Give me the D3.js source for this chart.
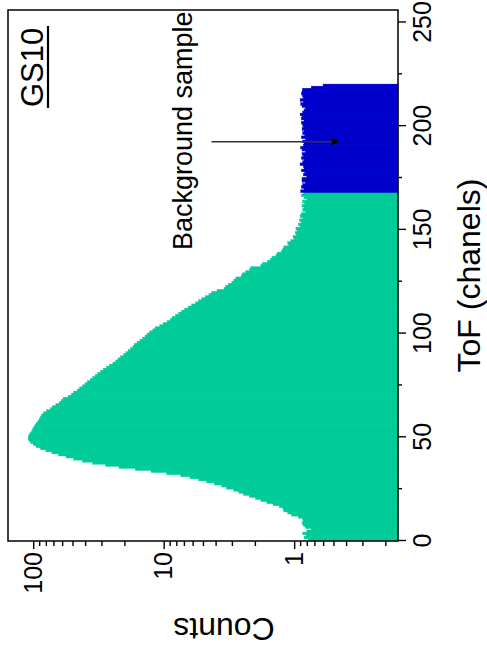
<!DOCTYPE html>
<html>
<head>
<meta charset="utf-8">
<script src="https://cdn.jsdelivr.net/npm/d3@7"></script>
<style>
  body { margin: 0; background: #fff; }
  text { font-family: "Liberation Sans", Arial, Helvetica, sans-serif; }
</style>
</head>
<body>
<div id="chart"></div>
<script>
var svgWidth = 487;
var svgHeight = 660;

// counts per ToF channel, channels 0..167 (sample)
var sampleCounts = [
  0.78, 0.84, 0.81, 0.86, 0.8, 0.74, 0.82, 0.85, 0.87, 0.85,
  0.86, 0.93, 1.05, 1.12, 1.2, 1.22, 1.3, 1.45, 1.62, 1.8,
  1.98, 2.2, 2.45, 2.65, 2.9, 3.3, 3.6, 4.1, 4.7, 5.4,
  6.3, 7.4, 9.5, 12.5, 16.5, 22, 28, 35, 42, 49,
  56, 64, 72, 80, 88, 95, 100, 105, 108, 109,
  108, 106, 103, 101, 99, 97, 95, 92, 90, 88,
  86, 83, 79, 74, 71, 67, 63, 61, 59, 54,
  51, 49, 46, 44, 42, 40, 38.5, 36.5, 35, 33.5,
  32, 30.5, 29, 27.5, 26, 24.5, 23.3, 22.4, 21.4, 20.3,
  19.5, 18.7, 17.9, 17.2, 16.8, 16, 15.2, 14.5, 13.9, 13.4,
  12.8, 12.1, 11.6, 10.7, 10.1, 9.4, 8.9, 8.6, 8.1, 7.7,
  7.3, 6.9, 6.5, 6.1, 5.7, 5.4, 5.1, 4.8, 4.5, 4.3,
  3.9, 3.45, 3.35, 3.2, 3.0, 2.9, 2.8, 2.55, 2.5, 2.35,
  2.2, 2.15, 1.8, 1.75, 1.6, 1.52, 1.48, 1.38, 1.35, 1.25,
  1.22, 1.2, 1.1, 1.12, 1.06, 1.0, 1.02, 0.96, 0.98, 0.95,
  0.97, 0.9, 0.93, 0.88, 0.91, 0.86, 0.9, 0.88, 0.82, 0.86,
  0.84, 0.87, 0.83, 0.86, 0.8, 0.84, 0.88, 0.85
];

// counts per channel, channels 168..219 (background)
var backgroundStart = 168;
var backgroundCounts = [
  0.89, 0.84, 0.88, 0.86, 0.82, 0.87, 0.87, 0.8, 0.85, 0.83,
  0.88, 0.84, 0.85, 0.9, 0.86, 0.84, 0.88, 0.85, 0.87, 0.82,
  0.87, 0.89, 0.85, 0.84, 0.86, 0.82, 0.88, 0.83, 0.86, 0.84,
  0.87, 0.85, 0.86, 0.88, 0.84, 0.88, 0.87, 0.9, 0.86, 0.84,
  0.82, 0.87, 0.89, 0.85, 0.9, 0.85, 0.86, 0.88, 0.87, 0.86,
  0.74, 0.6
];

var tofTicks = [0, 50, 100, 150, 200, 250];
var tofMinorTicks = [25, 75, 125, 175, 225];
var countTicks = [1, 10, 100];
var countMinorTicks = [0.2, 0.3, 0.4, 0.5, 0.6, 0.7, 0.8, 0.9,
  2, 3, 4, 5, 6, 7, 8, 9, 20, 30, 40, 50, 60, 70, 80, 90];

// arrow: channel, from count, to count
var arrowChannel = 192.5;
var arrowFrom = 4.3;
var arrowTo = 0.45;

// chart is drawn unrotated, then the group is turned -90deg
var W = 531;   // ToF axis length
var H = 390;   // Counts axis length

var svg = d3.select("#chart")
  .append("svg")
  .attr("width", svgWidth)
  .attr("height", svgHeight);

svg.append("defs").append("marker")
  .attr("id", "head")
  .attr("viewBox", "0 0 10 10")
  .attr("refX", 10).attr("refY", 5)
  .attr("markerWidth", 9).attr("markerHeight", 5)
  .attr("markerUnits", "strokeWidth")
  .attr("orient", "auto")
  .append("path")
  .attr("d", "M0,0 L10,5 L0,10 Z")
  .attr("fill", "#000");

var g = svg.append("g")
  .attr("transform", "translate(8,541) rotate(-90)");

var x = d3.scaleLinear().domain([0, 256]).range([0, W]);
var y = d3.scaleLog().domain([0.16, 156]).range([H, 0]);

var bars = sampleCounts.map(function(c, i) { return {ch: i, c: c, bg: false}; })
  .concat(backgroundCounts.map(function(c, i) { return {ch: backgroundStart + i, c: c, bg: true}; }));

g.selectAll("rect.bar")
  .data(bars)
  .enter()
  .append("rect")
  .attr("class", "bar")
  .attr("x", d => x(d.ch))
  .attr("width", d => x(d.ch + 1) - x(d.ch) + 0.6)
  .attr("y", d => y(d.c))
  .attr("height", d => H - y(d.c))
  .attr("fill", d => d.bg ? "#0000cc" : "#00cc99")
  .attr("stroke", d => d.bg ? "#0000cc" : "#00cc99")
  .attr("stroke-width", 0.4);

// frame
g.append("rect")
  .attr("width", W).attr("height", H)
  .attr("fill", "none")
  .attr("stroke", "#000")
  .attr("stroke-width", 1.5);

// ToF axis (right side after rotation)
g.append("g")
  .attr("transform", `translate(0,${H})`)
  .call(d3.axisBottom(x).tickValues(tofTicks).tickSize(8).tickPadding(7));
g.append("g")
  .attr("transform", `translate(0,${H})`)
  .call(d3.axisBottom(x).tickValues(tofMinorTicks).tickSize(4).tickFormat(""));

// Counts axis (bottom after rotation)
g.append("g")
  .call(d3.axisLeft(y).tickValues(countTicks).tickSize(8).tickPadding(3).tickFormat(d3.format("d")));
g.append("g")
  .call(d3.axisLeft(y).tickValues(countMinorTicks).tickSize(5).tickFormat(""));

g.selectAll(".domain").remove();
g.selectAll(".tick line").attr("stroke", "#000").attr("stroke-width", 1.4);
g.selectAll(".tick text")
  .attr("fill", "#000")
  .style("font-size", "25px")
  .style("font-family", "'Liberation Sans', Arial, Helvetica, sans-serif");

// axis titles
g.append("text")
  .attr("x", W / 2)
  .attr("y", H + 82)
  .attr("text-anchor", "middle")
  .style("font-size", "32px")
  .text("ToF (chanels)");

g.append("text")
  .attr("transform", `translate(-77,${216}) rotate(-90)`)
  .attr("text-anchor", "middle")
  .style("font-size", "32px")
  .text("Counts");

// sample label
g.append("text")
  .attr("x", 434)
  .attr("y", 35)
  .style("font-size", "31px")
  .text("GS10");
g.append("line")
  .attr("x1", 433).attr("x2", 515)
  .attr("y1", 40).attr("y2", 40)
  .attr("stroke", "#000")
  .attr("stroke-width", 2.2);

// annotation
g.append("text")
  .attr("x", 291)
  .attr("y", 184)
  .style("font-size", "27px")
  .text("Background sample");

g.append("line")
  .attr("x1", x(arrowChannel)).attr("x2", x(arrowChannel))
  .attr("y1", y(arrowFrom)).attr("y2", y(arrowTo))
  .attr("stroke", "#333")
  .attr("stroke-width", 1.5)
  .attr("marker-end", "url(#head)");
</script>
</body>
</html>
